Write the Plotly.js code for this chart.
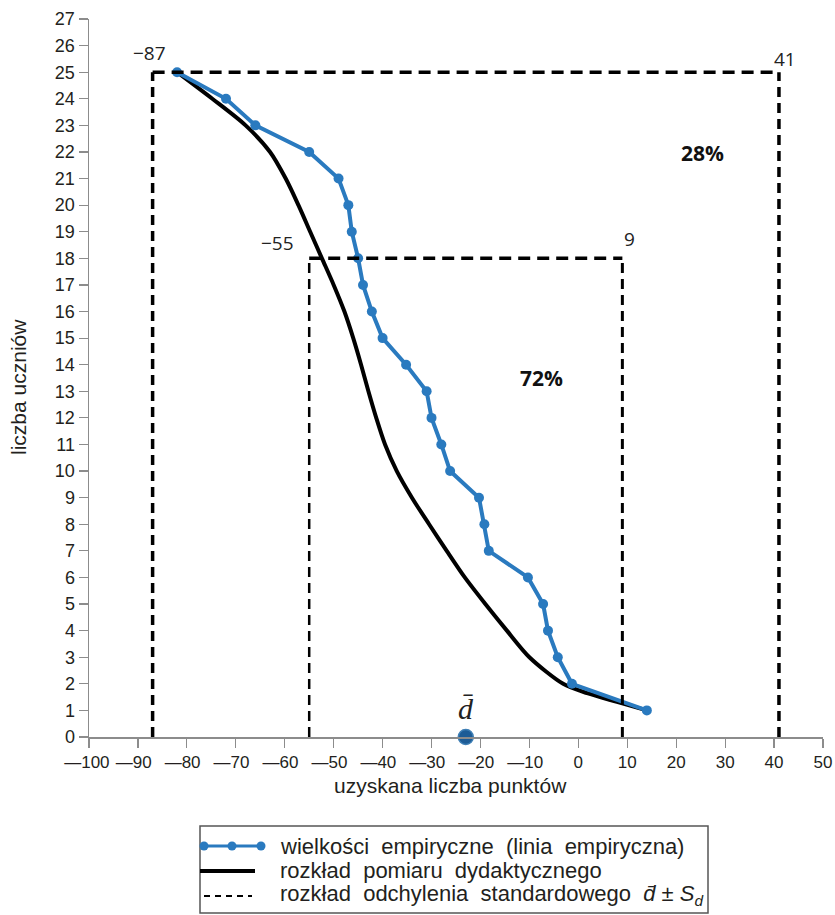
<!DOCTYPE html>
<html>
<head>
<meta charset="utf-8">
<script src="https://cdn.plot.ly/plotly-3.0.1.min.js"></script>
<style>
  html, body { margin: 0; padding: 0; background: #ffffff; }
  #chart { width: 835px; height: 915px; }
</style>
</head>
<body>
<div id="chart"></div>
<script>
// Empirical line: number of students (y) vs. points obtained (x)
const empiricalY = [25, 24, 23, 22, 21, 20, 19, 18, 17, 16, 15, 14, 13, 12, 11, 10, 9, 8, 7, 6, 5, 4, 3, 2, 1];
const empiricalX = [-82, -72, -66, -55, -49, -47, -46.3, -45, -44, -42.2, -40, -35.2, -31, -30, -28, -26.2, -20.3, -19.2, -18.3, -10.3, -7.2, -6.2, -4.2, -1.3, 14];

// Theoretical distribution of the didactic measurement
const modelY = [25, 24, 23, 22, 21, 20, 19, 18, 17, 16, 15, 14, 13, 12, 11, 10, 9, 8, 7, 6, 5, 4, 3, 2, 1.65, 1.32, 1];
const modelX = [-82, -74.8, -68, -63, -59.8, -57.2, -54.8, -52.4, -50, -47.8, -46, -44.4, -42.9, -41.3, -39.5, -37.1, -34, -30.5, -26.9, -23.2, -19, -14.6, -10, -3.1, 1.8, 7.9, 14];

// Mean and standard-deviation bounds (d̄ ± S_d, d̄ ± 2S_d)
const meanD = -23;
const oneSd = [-55, 9];
const twoSd = [-87, 41];
const oneSdLevel = 18;
const twoSdLevel = 25;
const shareLabels = ['72%', '28%'];
const shareX = [-7.6, 25.3];
const shareY = [13.5, 21.95];

// Axis ticks: negative labels use a long dash, padded on the right so the digits sit on the tick
const xTickVals = [-100, -90, -80, -70, -60, -50, -40, -30, -20, -10, 0, 10, 20, 30, 40, 50];
const xTickText = xTickVals.map(v => {
  if (v >= 0) return String(v);
  return '\u2014' + Math.abs(v) + (v === -100 ? '\u2005' : '\u2002');
});
const yTickVals = Array.from({length: 28}, (_, i) => i);

const blue = '#2a7abf';
const sans = 'Liberation Sans, Arial, sans-serif';

// pixel -> paper helpers for the legend box below the plot
const L = 89, R = 823, T = 19, B = 737;
const px = x => (x - L) / (R - L);
const py = y => (B - y) / (B - T);

const traces = [
  {
    x: modelX, y: modelY, type: 'scatter', mode: 'lines',
    line: {color: '#000000', width: 4, shape: 'spline', smoothing: 0.8},
    hoverinfo: 'skip', showlegend: false
  },
  {
    x: empiricalX, y: empiricalY, type: 'scatter', mode: 'lines+markers',
    line: {color: blue, width: 4},
    marker: {color: blue, size: 10},
    showlegend: false
  },
  {
    x: [meanD], y: [0], type: 'scatter', mode: 'markers',
    marker: {color: '#1d5c96', size: 15, line: {color: '#3f7fb5', width: 1.5}},
    cliponaxis: false, showlegend: false
  }
];

const dashTop = '12px,7px';
const dashSide = '10px,6px';
const shapes = [
  // d̄ ± 2S_d frame
  {type: 'line', xref: 'x', yref: 'y', x0: twoSd[0], x1: twoSd[0], y0: 0, y1: twoSdLevel, line: {color: '#000', width: 3.5, dash: dashSide}},
  {type: 'line', xref: 'x', yref: 'y', x0: twoSd[1], x1: twoSd[1], y0: 0, y1: twoSdLevel, line: {color: '#000', width: 3.5, dash: dashSide}},
  {type: 'line', xref: 'x', yref: 'y', x0: twoSd[0], x1: twoSd[1], y0: twoSdLevel, y1: twoSdLevel, line: {color: '#000', width: 3.5, dash: dashTop}},
  // d̄ ± S_d frame
  {type: 'line', xref: 'x', yref: 'y', x0: oneSd[0], x1: oneSd[0], y0: 0, y1: oneSdLevel, line: {color: '#000', width: 2.5, dash: dashSide}},
  {type: 'line', xref: 'x', yref: 'y', x0: oneSd[1], x1: oneSd[1], y0: 0, y1: oneSdLevel, line: {color: '#000', width: 3, dash: dashSide}},
  {type: 'line', xref: 'x', yref: 'y', x0: oneSd[0], x1: oneSd[1], y0: oneSdLevel, y1: oneSdLevel, line: {color: '#000', width: 3.5, dash: dashTop}},
  // legend box
  {type: 'rect', xref: 'paper', yref: 'paper', x0: px(200), x1: px(708), y0: py(826), y1: py(913), line: {color: '#555555', width: 1.5}, fillcolor: 'rgba(0,0,0,0)'},
  // legend symbols
  {type: 'line', xref: 'paper', yref: 'paper', x0: px(203), x1: px(261), y0: py(846), y1: py(846), line: {color: blue, width: 3}},
  {type: 'circle', xref: 'paper', yref: 'paper', x0: px(199.5), x1: px(208.5), y0: py(841.5), y1: py(850.5), line: {color: blue, width: 0}, fillcolor: blue},
  {type: 'circle', xref: 'paper', yref: 'paper', x0: px(227.5), x1: px(236.5), y0: py(841.5), y1: py(850.5), line: {color: blue, width: 0}, fillcolor: blue},
  {type: 'circle', xref: 'paper', yref: 'paper', x0: px(256.5), x1: px(265.5), y0: py(841.5), y1: py(850.5), line: {color: blue, width: 0}, fillcolor: blue},
  {type: 'line', xref: 'paper', yref: 'paper', x0: px(200), x1: px(255), y0: py(871), y1: py(871), line: {color: '#000', width: 4}},
  {type: 'line', xref: 'paper', yref: 'paper', x0: px(204), x1: px(252), y0: py(896), y1: py(896), line: {color: '#000', width: 2, dash: '6px,5px'}}
];

const cornerFont = {family: 'Open Sans, sans-serif', size: 19, color: '#222222'};
const shareFont = {family: 'Open Sans, sans-serif', size: 21, color: '#111111'};
const textFont = {family: sans, size: 21, color: '#231f20'};
const legendFont = {family: sans, size: 22, color: '#231f20'};
const annotations = [
  {x: twoSd[0], y: twoSdLevel, xref: 'x', yref: 'y', text: '\u2212' + Math.abs(twoSd[0]), showarrow: false, xanchor: 'right', yanchor: 'bottom', xshift: 15, yshift: 4, font: cornerFont},
  {x: oneSd[0], y: oneSdLevel, xref: 'x', yref: 'y', text: '\u2212' + Math.abs(oneSd[0]), showarrow: false, xanchor: 'right', yanchor: 'bottom', xshift: -13, yshift: 0, font: cornerFont},
  {x: oneSd[1], y: oneSdLevel, xref: 'x', yref: 'y', text: String(oneSd[1]), showarrow: false, xanchor: 'left', yanchor: 'bottom', xshift: 0, yshift: 4, font: cornerFont},
  {x: twoSd[1], y: twoSdLevel, xref: 'x', yref: 'y', text: String(twoSd[1]), showarrow: false, xanchor: 'left', yanchor: 'bottom', xshift: -7, yshift: -2, font: cornerFont},
  {x: shareX[0], y: shareY[0], xref: 'x', yref: 'y', text: '<b>' + shareLabels[0] + '</b>', showarrow: false, font: shareFont},
  {x: shareX[1], y: shareY[1], xref: 'x', yref: 'y', text: '<b>' + shareLabels[1] + '</b>', showarrow: false, font: shareFont},
  {x: meanD, y: 0, xref: 'x', yref: 'y', text: '<i>d\u0304</i>', showarrow: false, yanchor: 'bottom', yshift: 10, font: {family: 'Liberation Serif, serif', size: 30, color: '#222'}},
  // axis titles
  {x: px(450), y: py(785), xref: 'paper', yref: 'paper', xanchor: 'center', yanchor: 'middle', text: 'uzyskana liczba punktów', showarrow: false, font: textFont},
  {x: px(18), y: py(387), xref: 'paper', yref: 'paper', xanchor: 'center', yanchor: 'middle', text: 'liczba uczniów', textangle: -90, showarrow: false, font: textFont},
  // legend entries
  {x: px(278), y: py(846), xref: 'paper', yref: 'paper', xanchor: 'left', yanchor: 'middle', text: 'wielkości  empiryczne  (linia  empiryczna)', showarrow: false, font: legendFont},
  {x: px(278), y: py(870), xref: 'paper', yref: 'paper', xanchor: 'left', yanchor: 'middle', text: 'rozkład  pomiaru  dydaktycznego', showarrow: false, font: legendFont},
  {x: px(278), y: py(895), xref: 'paper', yref: 'paper', xanchor: 'left', yanchor: 'middle', text: 'rozkład  odchylenia  standardowego  <i>d\u0304</i> ± <i>S<sub>d</sub></i>', showarrow: false, font: legendFont}
];

const layout = {
  width: 835, height: 915,
  margin: {l: L, r: 835 - R, t: T, b: 915 - B, pad: 0},
  paper_bgcolor: '#ffffff', plot_bgcolor: '#ffffff',
  font: {family: sans, color: '#231f20'},
  showlegend: false,
  xaxis: {
    range: [-100, 50], tickmode: 'array', tickvals: xTickVals, ticktext: xTickText, tickangle: 0,
    showgrid: false, zeroline: false, showline: true, linecolor: '#8c8c8c', linewidth: 1.5,
    ticks: 'outside', ticklen: 9, tickwidth: 1.2, tickcolor: '#8c8c8c',
    tickfont: {size: 17, color: '#231f20', family: sans}, fixedrange: true
  },
  yaxis: {
    range: [0, 27], tickmode: 'array', tickvals: yTickVals,
    showgrid: false, zeroline: false, showline: true, linecolor: '#8c8c8c', linewidth: 1.5,
    ticks: 'outside', ticklen: 9, tickwidth: 1.2, tickcolor: '#8c8c8c',
    tickfont: {size: 18, color: '#231f20', family: sans}, fixedrange: true
  },
  shapes: shapes,
  annotations: annotations
};

Plotly.newPlot('chart', traces, layout, {displayModeBar: false, staticPlot: true});
</script>
</body>
</html>
